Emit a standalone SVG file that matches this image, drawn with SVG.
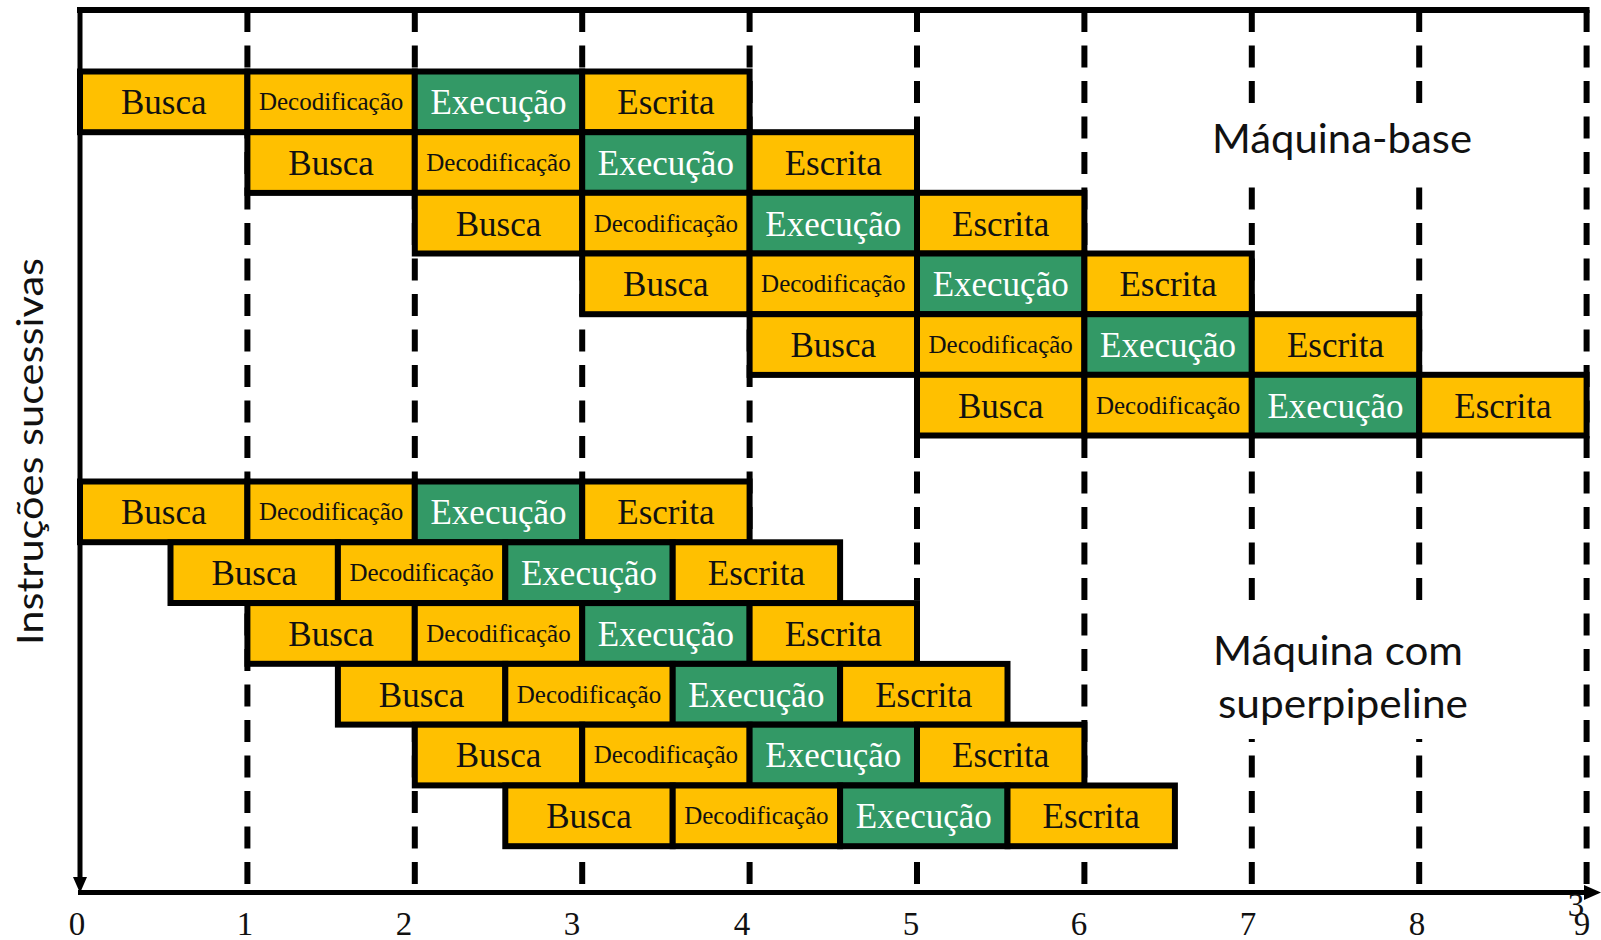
<svg xmlns="http://www.w3.org/2000/svg" width="1601" height="940" viewBox="0 0 1601 940">
  <style>
    .grid { stroke: #000; stroke-width: 6; stroke-dasharray: 22 13.5; fill: none; }
    .axis { stroke: #000; fill: none; }
    .y { fill: #FFC000; stroke: #000; stroke-width: 6; }
    .g { fill: #339966; stroke: #000; stroke-width: 6; }
    .t { font-family: "Liberation Serif", "Times New Roman", serif; font-size: 35px; text-anchor: middle; fill: #111; }
    .d { font-family: "Liberation Serif", "Times New Roman", serif; font-size: 25px; text-anchor: middle; fill: #111; }
    .w { fill: #fff; }
    .num { font-family: "Liberation Serif", "Times New Roman", serif; font-size: 33px; text-anchor: middle; fill: #111; }
    .lbl { font-family: Lato, "Open Sans", "Liberation Sans", sans-serif; text-anchor: middle; fill: #111; }
    .pad { fill: #fff; stroke: none; }
  </style>
  <defs>
    <!-- stage cells, drawn at origin and placed by translate -->
    <rect id="cellY" class="y" width="167.4" height="60.7"/>
    <rect id="cellG" class="g" width="167.4" height="60.7"/>
  </defs>

  <rect width="1601" height="940" fill="#fff"/>

  <!-- time grid and axes -->
  <g id="connectors">
    <line class="grid" x1="247.4" y1="10" x2="247.4" y2="892"/>
    <line class="grid" x1="414.8" y1="10" x2="414.8" y2="892"/>
    <line class="grid" x1="582.2" y1="10" x2="582.2" y2="892"/>
    <line class="grid" x1="749.6" y1="10" x2="749.6" y2="892"/>
    <line class="grid" x1="917" y1="10" x2="917" y2="892"/>
    <line class="grid" x1="1084.4" y1="10" x2="1084.4" y2="892"/>
    <line class="grid" x1="1251.8" y1="10" x2="1251.8" y2="892"/>
    <line class="grid" x1="1419.2" y1="10" x2="1419.2" y2="892"/>
    <line class="grid" x1="1586.6" y1="10" x2="1586.6" y2="892"/>
    <line class="axis" stroke-width="6" x1="77" y1="10" x2="1589.5" y2="10"/>
    <line class="axis" stroke-width="5" x1="80" y1="7" x2="80" y2="880"/>
    <polygon points="73,877 87,877 80,893" fill="#000"/>
    <line class="axis" stroke-width="5" x1="78" y1="892.5" x2="1588" y2="892.5"/>
    <polygon points="1584,885 1584,900 1601,892.5" fill="#000"/>
  </g>

  <!-- base machine: one instruction per cycle -->
  <g id="base">
    <g id="b0-busca" transform="translate(80,71.5)"><use href="#cellY"/><text class="t" x="83.7" y="42.8">Busca</text></g>
    <g id="b0-decod" transform="translate(247.4,71.5)"><use href="#cellY"/><text class="d" x="83.7" y="38.8">Decodificação</text></g>
    <g id="b0-exec" transform="translate(414.8,71.5)"><use href="#cellG"/><text class="t w" x="83.7" y="42.8">Execução</text></g>
    <g id="b0-escr" transform="translate(582.2,71.5)"><use href="#cellY"/><text class="t" x="83.7" y="42.8">Escrita</text></g>

    <g id="b1-busca" transform="translate(247.4,132.2)"><use href="#cellY"/><text class="t" x="83.7" y="42.8">Busca</text></g>
    <g id="b1-decod" transform="translate(414.8,132.2)"><use href="#cellY"/><text class="d" x="83.7" y="38.8">Decodificação</text></g>
    <g id="b1-exec" transform="translate(582.2,132.2)"><use href="#cellG"/><text class="t w" x="83.7" y="42.8">Execução</text></g>
    <g id="b1-escr" transform="translate(749.6,132.2)"><use href="#cellY"/><text class="t" x="83.7" y="42.8">Escrita</text></g>

    <g id="b2-busca" transform="translate(414.8,192.8)"><use href="#cellY"/><text class="t" x="83.7" y="42.8">Busca</text></g>
    <g id="b2-decod" transform="translate(582.2,192.8)"><use href="#cellY"/><text class="d" x="83.7" y="38.8">Decodificação</text></g>
    <g id="b2-exec" transform="translate(749.6,192.8)"><use href="#cellG"/><text class="t w" x="83.7" y="42.8">Execução</text></g>
    <g id="b2-escr" transform="translate(917,192.8)"><use href="#cellY"/><text class="t" x="83.7" y="42.8">Escrita</text></g>

    <g id="b3-busca" transform="translate(582.2,253.5)"><use href="#cellY"/><text class="t" x="83.7" y="42.8">Busca</text></g>
    <g id="b3-decod" transform="translate(749.6,253.5)"><use href="#cellY"/><text class="d" x="83.7" y="38.8">Decodificação</text></g>
    <g id="b3-exec" transform="translate(917,253.5)"><use href="#cellG"/><text class="t w" x="83.7" y="42.8">Execução</text></g>
    <g id="b3-escr" transform="translate(1084.4,253.5)"><use href="#cellY"/><text class="t" x="83.7" y="42.8">Escrita</text></g>

    <g id="b4-busca" transform="translate(749.6,314.2)"><use href="#cellY"/><text class="t" x="83.7" y="42.8">Busca</text></g>
    <g id="b4-decod" transform="translate(917,314.2)"><use href="#cellY"/><text class="d" x="83.7" y="38.8">Decodificação</text></g>
    <g id="b4-exec" transform="translate(1084.4,314.2)"><use href="#cellG"/><text class="t w" x="83.7" y="42.8">Execução</text></g>
    <g id="b4-escr" transform="translate(1251.8,314.2)"><use href="#cellY"/><text class="t" x="83.7" y="42.8">Escrita</text></g>

    <g id="b5-busca" transform="translate(917,374.8)"><use href="#cellY"/><text class="t" x="83.7" y="42.8">Busca</text></g>
    <g id="b5-decod" transform="translate(1084.4,374.8)"><use href="#cellY"/><text class="d" x="83.7" y="38.8">Decodificação</text></g>
    <g id="b5-exec" transform="translate(1251.8,374.8)"><use href="#cellG"/><text class="t w" x="83.7" y="42.8">Execução</text></g>
    <g id="b5-escr" transform="translate(1419.2,374.8)"><use href="#cellY"/><text class="t" x="83.7" y="42.8">Escrita</text></g>
  </g>

  <!-- superpipelined machine: a new instruction every half cycle -->
  <g id="super">
    <g id="s0-busca" transform="translate(80,481.5)"><use href="#cellY"/><text class="t" x="83.7" y="42.8">Busca</text></g>
    <g id="s0-decod" transform="translate(247.4,481.5)"><use href="#cellY"/><text class="d" x="83.7" y="38.8">Decodificação</text></g>
    <g id="s0-exec" transform="translate(414.8,481.5)"><use href="#cellG"/><text class="t w" x="83.7" y="42.8">Execução</text></g>
    <g id="s0-escr" transform="translate(582.2,481.5)"><use href="#cellY"/><text class="t" x="83.7" y="42.8">Escrita</text></g>

    <g id="s1-busca" transform="translate(170.5,542.3)"><use href="#cellY"/><text class="t" x="83.7" y="42.8">Busca</text></g>
    <g id="s1-decod" transform="translate(337.9,542.3)"><use href="#cellY"/><text class="d" x="83.7" y="38.8">Decodificação</text></g>
    <g id="s1-exec" transform="translate(505.3,542.3)"><use href="#cellG"/><text class="t w" x="83.7" y="42.8">Execução</text></g>
    <g id="s1-escr" transform="translate(672.7,542.3)"><use href="#cellY"/><text class="t" x="83.7" y="42.8">Escrita</text></g>

    <g id="s2-busca" transform="translate(247.4,603.1)"><use href="#cellY"/><text class="t" x="83.7" y="42.8">Busca</text></g>
    <g id="s2-decod" transform="translate(414.8,603.1)"><use href="#cellY"/><text class="d" x="83.7" y="38.8">Decodificação</text></g>
    <g id="s2-exec" transform="translate(582.2,603.1)"><use href="#cellG"/><text class="t w" x="83.7" y="42.8">Execução</text></g>
    <g id="s2-escr" transform="translate(749.6,603.1)"><use href="#cellY"/><text class="t" x="83.7" y="42.8">Escrita</text></g>

    <g id="s3-busca" transform="translate(337.9,663.9)"><use href="#cellY"/><text class="t" x="83.7" y="42.8">Busca</text></g>
    <g id="s3-decod" transform="translate(505.3,663.9)"><use href="#cellY"/><text class="d" x="83.7" y="38.8">Decodificação</text></g>
    <g id="s3-exec" transform="translate(672.7,663.9)"><use href="#cellG"/><text class="t w" x="83.7" y="42.8">Execução</text></g>
    <g id="s3-escr" transform="translate(840.1,663.9)"><use href="#cellY"/><text class="t" x="83.7" y="42.8">Escrita</text></g>

    <g id="s4-busca" transform="translate(414.8,724.7)"><use href="#cellY"/><text class="t" x="83.7" y="42.8">Busca</text></g>
    <g id="s4-decod" transform="translate(582.2,724.7)"><use href="#cellY"/><text class="d" x="83.7" y="38.8">Decodificação</text></g>
    <g id="s4-exec" transform="translate(749.6,724.7)"><use href="#cellG"/><text class="t w" x="83.7" y="42.8">Execução</text></g>
    <g id="s4-escr" transform="translate(917,724.7)"><use href="#cellY"/><text class="t" x="83.7" y="42.8">Escrita</text></g>

    <g id="s5-busca" transform="translate(505.3,785.5)"><use href="#cellY"/><text class="t" x="83.7" y="42.8">Busca</text></g>
    <g id="s5-decod" transform="translate(672.7,785.5)"><use href="#cellY"/><text class="d" x="83.7" y="38.8">Decodificação</text></g>
    <g id="s5-exec" transform="translate(840.1,785.5)"><use href="#cellG"/><text class="t w" x="83.7" y="42.8">Execução</text></g>
    <g id="s5-escr" transform="translate(1007.5,785.5)"><use href="#cellY"/><text class="t" x="83.7" y="42.8">Escrita</text></g>
  </g>

  <!-- labels on white text boxes that mask the grid -->
  <g id="label-base">
    <rect class="pad" x="1195" y="104" width="295" height="82"/>
    <text class="lbl" x="1342" y="153" font-size="40" textLength="260" lengthAdjust="spacingAndGlyphs">Máquina-base</text>
  </g>
  <g id="label-super">
    <rect class="pad" x="1195" y="603" width="295" height="136"/>
    <text class="lbl" x="1338" y="665" font-size="40" textLength="250" lengthAdjust="spacingAndGlyphs">Máquina com</text>
    <text class="lbl" x="1343" y="718" font-size="40" textLength="250" lengthAdjust="spacingAndGlyphs">superpipeline</text>
  </g>
  <g id="label-axis">
    <text class="lbl" transform="translate(43,451.5) rotate(-90)" x="0" y="0" font-size="37" textLength="387" lengthAdjust="spacingAndGlyphs">Instruções sucessivas</text>
  </g>

  <!-- cycle numbers -->
  <g id="ticks">
    <text class="num" x="77" y="935">0</text>
    <text class="num" x="245" y="935">1</text>
    <text class="num" x="404" y="935">2</text>
    <text class="num" x="572" y="935">3</text>
    <text class="num" x="742" y="935">4</text>
    <text class="num" x="911" y="935">5</text>
    <text class="num" x="1079" y="935">6</text>
    <text class="num" x="1248" y="935">7</text>
    <text class="num" x="1417" y="935">8</text>
    <text class="num" x="1576" y="916" font-size="25">3</text>
    <text class="num" x="1582" y="935">9</text>
  </g>
</svg>
